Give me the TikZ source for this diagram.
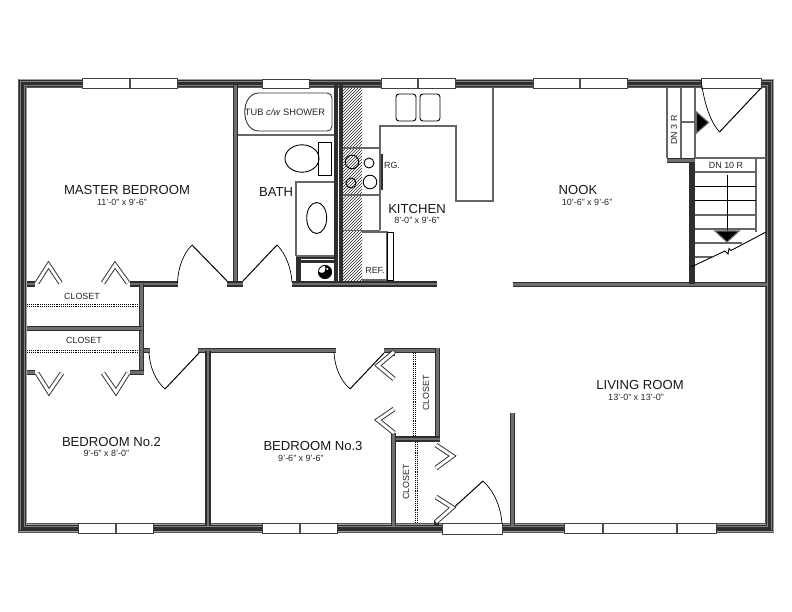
\documentclass[tikz,border=0pt]{standalone}
\usepackage{fontspec}
\setmainfont{Liberation Sans}
\definecolor{wd}{HTML}{2E2E2E}
\definecolor{wm}{HTML}{6E6E6E}
\definecolor{wl}{HTML}{A0A0A0}
\definecolor{fx}{HTML}{666666}
\tikzset{
 owall/.style={line width=9.4pt,draw=wd!80!white,line join=miter,postaction={draw=wl,line width=8pt},postaction={draw=wd,line width=6.6pt},postaction={draw=wl!80!black,line width=4.6pt},postaction={draw=wd,line width=3pt}},
 iwall/.style={line width=5.8pt,draw=wd,line join=miter,postaction={draw=wm,line width=2.4pt}},
 thinwall/.style={line width=3.6pt,draw=wd},
 wind/.style={draw=black!75,line width=.85pt,fill=white},
 mull/.style={draw=wd!85!white,line width=1.5pt},
 doorleaf/.style={draw=black,line width=1pt},
 doorarc/.style={draw=black,line width=.7pt},
 bifold/.style={line width=4.8pt,draw=black!80,line join=miter,postaction={draw=white,line width=2.9pt}},
 fix/.style={draw=fx,line width=1.1pt},
 fixk/.style={draw=black,line width=.9pt},
 stepl/.style={draw=black,line width=.9pt},
 dotl/.style={draw=black,line width=1pt,dash pattern=on 1pt off .9pt},
 lab/.style={font=\fontsize{13.1pt}{14pt}\selectfont,inner sep=0pt,text=black!90},
 dim/.style={font=\fontsize{9pt}{10pt}\selectfont,inner sep=0pt,text=black!85},
 sm/.style={font=\fontsize{8.9pt}{10pt}\selectfont,inner sep=0pt,text=black!85},
}
\begin{document}
\begin{tikzpicture}[x=1pt,y=-1pt]
\useasboundingbox (0,0) rectangle (792,612);
\fill[white] (0,0) rectangle (792,612);
% hatching beside the kitchen wall
\begin{scope}
\clip (343,88) rectangle (362,282);
\foreach \k in {0,3,...,240}{\draw[draw=black!85,line width=.65pt] (340,88+\k) -- (366,62+\k);}
\end{scope}
% bath fixtures
\draw[fix] (238,135) -- (334,135);
\draw[fixk,draw=black!80] (259,93) -- (327,93) .. controls (330,93) and (332,95) .. (332,98) -- (332,126) .. controls (332,129) and (330,131) .. (327,131) -- (259,131) .. controls (240,131) and (240,93) .. (259,93) -- cycle;
\draw[fixk] (318,142) rectangle (331,175);
\draw[fixk] (302,158.5) ellipse (17 and 13.7);
\draw[fix] (296,256) -- (296,182) -- (334,182);
\draw[fixk] (316.7,218) ellipse (10 and 15.5);
\draw[fix] (296,256) -- (334,256);
% shaft
\draw[line width=1.4pt,draw=wd] (296,258) -- (336,258);
\draw[line width=5pt,draw=wd] (298.5,258) -- (298.5,282);
\draw[line width=2.4pt,draw=wd] (300,261.5) -- (336,261.5);
\draw[black,line width=.8pt,fill=white] (325,272) circle (6.6);
\fill[black] (325,265.4) .. controls (333.8,265.4) and (333.8,278.6) .. (325,278.6) .. controls (320.5,278.6) and (317,274.5) .. (318.4,271) .. controls (320,273.5) and (324,273.5) .. (325,271) .. controls (325.5,269) and (325.5,267) .. (325,265.4) -- cycle;
\fill[white] (327.2,269) circle (1.2);
% kitchen fixtures
\draw[fixk,rounded corners=3pt] (396,94) rectangle (416,121);
\draw[fixk,rounded corners=3pt] (420,94) rectangle (440,121);
\draw[fix] (380,230) -- (380,126) -- (456,126) -- (456,201) -- (493,201) -- (493,88);
\draw[fix] (343,148) -- (380,148);
\draw[fix] (343,195) -- (380,195);
\draw[fix] (343,230.5) -- (380,230.5);
\draw[line width=1.8pt,draw=wd] (382,154) -- (382,190);
\draw[fixk] (352,162) circle (6.8);
\draw[fixk] (369,163) circle (5);
\draw[fixk] (351,183) circle (5);
\draw[fixk] (370,182) circle (6.8);
\draw[fix] (362,232) -- (387,232) -- (387,280);
\draw[fixk] (387,232) rectangle (393,280);
\draw[fix] (362,280) -- (387,280);
% outer wall
\draw[owall] (22.5,83.5) -- (769.5,83.5) -- (769.5,528) -- (22.5,528) -- cycle;
% inner walls
\draw[iwall] (235.5,85) -- (235.5,284);
\draw[thinwall] (335.8,85) -- (335.8,284);
\draw[thinwall] (341.2,85) -- (341.2,284);
\draw[iwall] (27,284) -- (35,284);
\draw[iwall] (130,284) -- (178,284);
\draw[iwall] (227,284) -- (243,284);
\draw[iwall] (292,284) -- (437,284);
\draw[iwall] (513,284.5) -- (767,284.5);
\draw[iwall] (141.5,284) -- (141.5,375);
\draw[iwall] (27,328.5) -- (141.5,328.5);
\draw[iwall] (27,372.5) -- (35,372.5);
\draw[iwall] (130,372.5) -- (144,372.5);
\draw[iwall] (144,350.5) -- (150,350.5);
\draw[iwall] (198,350.5) -- (336,350.5);
\draw[iwall] (384,350.5) -- (440,350.5);
\draw[iwall] (208,350.5) -- (208,526);
\draw[iwall] (437.5,348) -- (437.5,442);
\draw[iwall] (393,439) -- (440,439);
\draw[iwall] (393.5,433) -- (393.5,526);
\draw[iwall] (512.5,413) -- (512.5,526);
\draw[iwall] (667,160.5) -- (695,160.5);
\draw[line width=6pt,draw=wd] (692,163) -- (692,284);
\fill[wd] (389.5,351) rectangle (394.5,356);
\fill[wd] (434,520) rectangle (439,525);
% windows
\draw[wind] (82,78) rectangle (177,88); \draw[mull] (130,78) -- (130,88);
\draw[wind] (262,79) rectangle (309,88);
\draw[wind] (381,78) rectangle (455,88); \draw[mull] (418,78) -- (418,88);
\draw[wind] (533,78) rectangle (627,88); \draw[mull] (580,78) -- (580,88);
\draw[wind] (78,523) rectangle (153,533); \draw[mull] (116,523) -- (116,533);
\draw[wind] (262,523) rectangle (337,533); \draw[mull] (300,523) -- (300,533);
\draw[wind] (564,523) rectangle (716,533); \draw[mull] (603,523) -- (603,533); \draw[mull] (677,523) -- (677,533);
% entry bumps
\draw[wind] (701,78) rectangle (761,88);
\draw[wind] (442,523) rectangle (502,534);
% DN 3 R landing
\draw[fix] (667,88) -- (667,158);
\draw[fix] (681,88) -- (681,158);
\draw[fix] (695,88) -- (695,158);
\draw[fix] (681,122) -- (695,122);
\draw[fix] (695,158) -- (766,158);
\draw[fix,fill=black] (696.5,112) -- (708.5,122.5) -- (696.5,133) -- cycle;
% stairs
\draw[fix] (756,158) -- (756,232);
\draw[fix] (695,172) -- (756,172);
\draw[stepl] (695,186.5) -- (756,186.5);
\draw[stepl] (695,200.7) -- (756,200.7);
\draw[fix] (695,215) -- (756,215);
\draw[fix] (695,229) -- (756,229);
\draw[fix] (695,243) -- (742,243);
\draw[fix] (695,257) -- (712,257);
\draw[stepl] (727,175) -- (727,238);
\draw[fix,fill=black] (715,231) -- (739,231) -- (727,242) -- cycle;
\draw[stepl] (691,267) -- (725,251) -- (728,254) -- (729,248.5) -- (731,250.5) -- (766,232);
% doors
\draw[doorarc] (701,80) .. controls (704,101) and (709,120) .. (719.5,132);
\draw[doorleaf] (719.5,132) -- (761,88);
\draw[doorarc] (192,245) .. controls (183,254) and (178,268) .. (177.5,283);
\draw[doorleaf] (192,245) -- (228,282);
\draw[doorarc] (277,245) .. controls (286,254) and (291,268) .. (292,282);
\draw[doorleaf] (277,245) -- (243,281);
\draw[doorarc] (149,353) .. controls (150,367) and (155,380) .. (165,389);
\draw[doorleaf] (165,389) -- (199,353);
\draw[doorarc] (334,353) .. controls (335,367) and (340,380) .. (350,389);
\draw[doorleaf] (350,389) -- (384,353);
\draw[doorarc] (483,481) .. controls (494,491) and (501,507) .. (502,524);
\draw[doorleaf] (483,481) -- (438,522);
% bifold doors
\draw[bifold] (37,283) -- (48.5,265) -- (60.5,283);
\draw[bifold] (103,283) -- (115,265) -- (128,283);
\draw[bifold] (37,373) -- (49,392) -- (62,373);
\draw[bifold] (103,373) -- (116,392) -- (128,373);
\draw[bifold] (394,352) -- (378,365.5) -- (394,379);
\draw[bifold] (394,409) -- (378,420) -- (394,433);
\draw[bifold] (436,445) -- (452.5,456) -- (436,468);
\draw[bifold] (436,497) -- (452.5,507.5) -- (436,522);
% closet rods
\draw[dotl] (27,304) -- (139,304);
\draw[dotl] (27,306.3) -- (139,306.3);
\draw[dotl] (27,350.5) -- (139,350.5);
\draw[dotl] (27,352.8) -- (139,352.8);
\draw[dotl] (413.2,353) -- (413.2,436);
\draw[dotl] (415.5,353) -- (415.5,436);
\draw[dotl] (415.2,442) -- (415.2,523);
\draw[dotl] (417.5,442) -- (417.5,523);
% labels
\node[lab] (tmaster) at (127,190) {MASTER BEDROOM};
\node[dim] (dmaster) at (122,202) {11'-0" x 9'-6"};
\node[lab] (tbath) at (276,192) {BATH};
\node[lab] (tkitchen) at (417,208.5) {KITCHEN};
\node[dim] (dkitchen) at (417,220) {8'-0" x 9'-6"};
\node[lab] (tnook) at (578,190) {NOOK};
\node[dim] (dnook) at (587,202) {10'-6" x 9'-6"};
\node[lab] (tbed2) at (111.5,442) {BEDROOM No.2};
\node[dim] (dbed2) at (106.5,453.5) {9'-6" x 8'-0"};
\node[lab] (tbed3) at (313,446) {BEDROOM No.3};
\node[dim] (dbed3) at (301,458) {9'-6" x 9'-6"};
\node[lab] (tliving) at (640,385) {LIVING ROOM};
\node[dim] (dliving) at (636,397) {13'-0" x 13'-0"};
\node[sm,font=\fontsize{9.3pt}{10pt}\selectfont] (ttub) at (285,112) {TUB \textit{c/w} SHOWER};
\node[sm] (trg) at (392,165) {RG.};
\node[sm] (tref) at (375,270) {REF.};
\node[sm] (tc1) at (82,296) {CLOSET};
\node[sm] (tc2) at (84,340) {CLOSET};
\node[sm,rotate=90] (tc3) at (426,393) {CLOSET};
\node[sm,rotate=90] (tc4) at (406,482) {CLOSET};
\node[sm] (tdn10) at (726,165) {DN 10 R};
\node[sm,rotate=90] (tdn3) at (674,130) {DN 3 R};
\end{tikzpicture}
\end{document}
